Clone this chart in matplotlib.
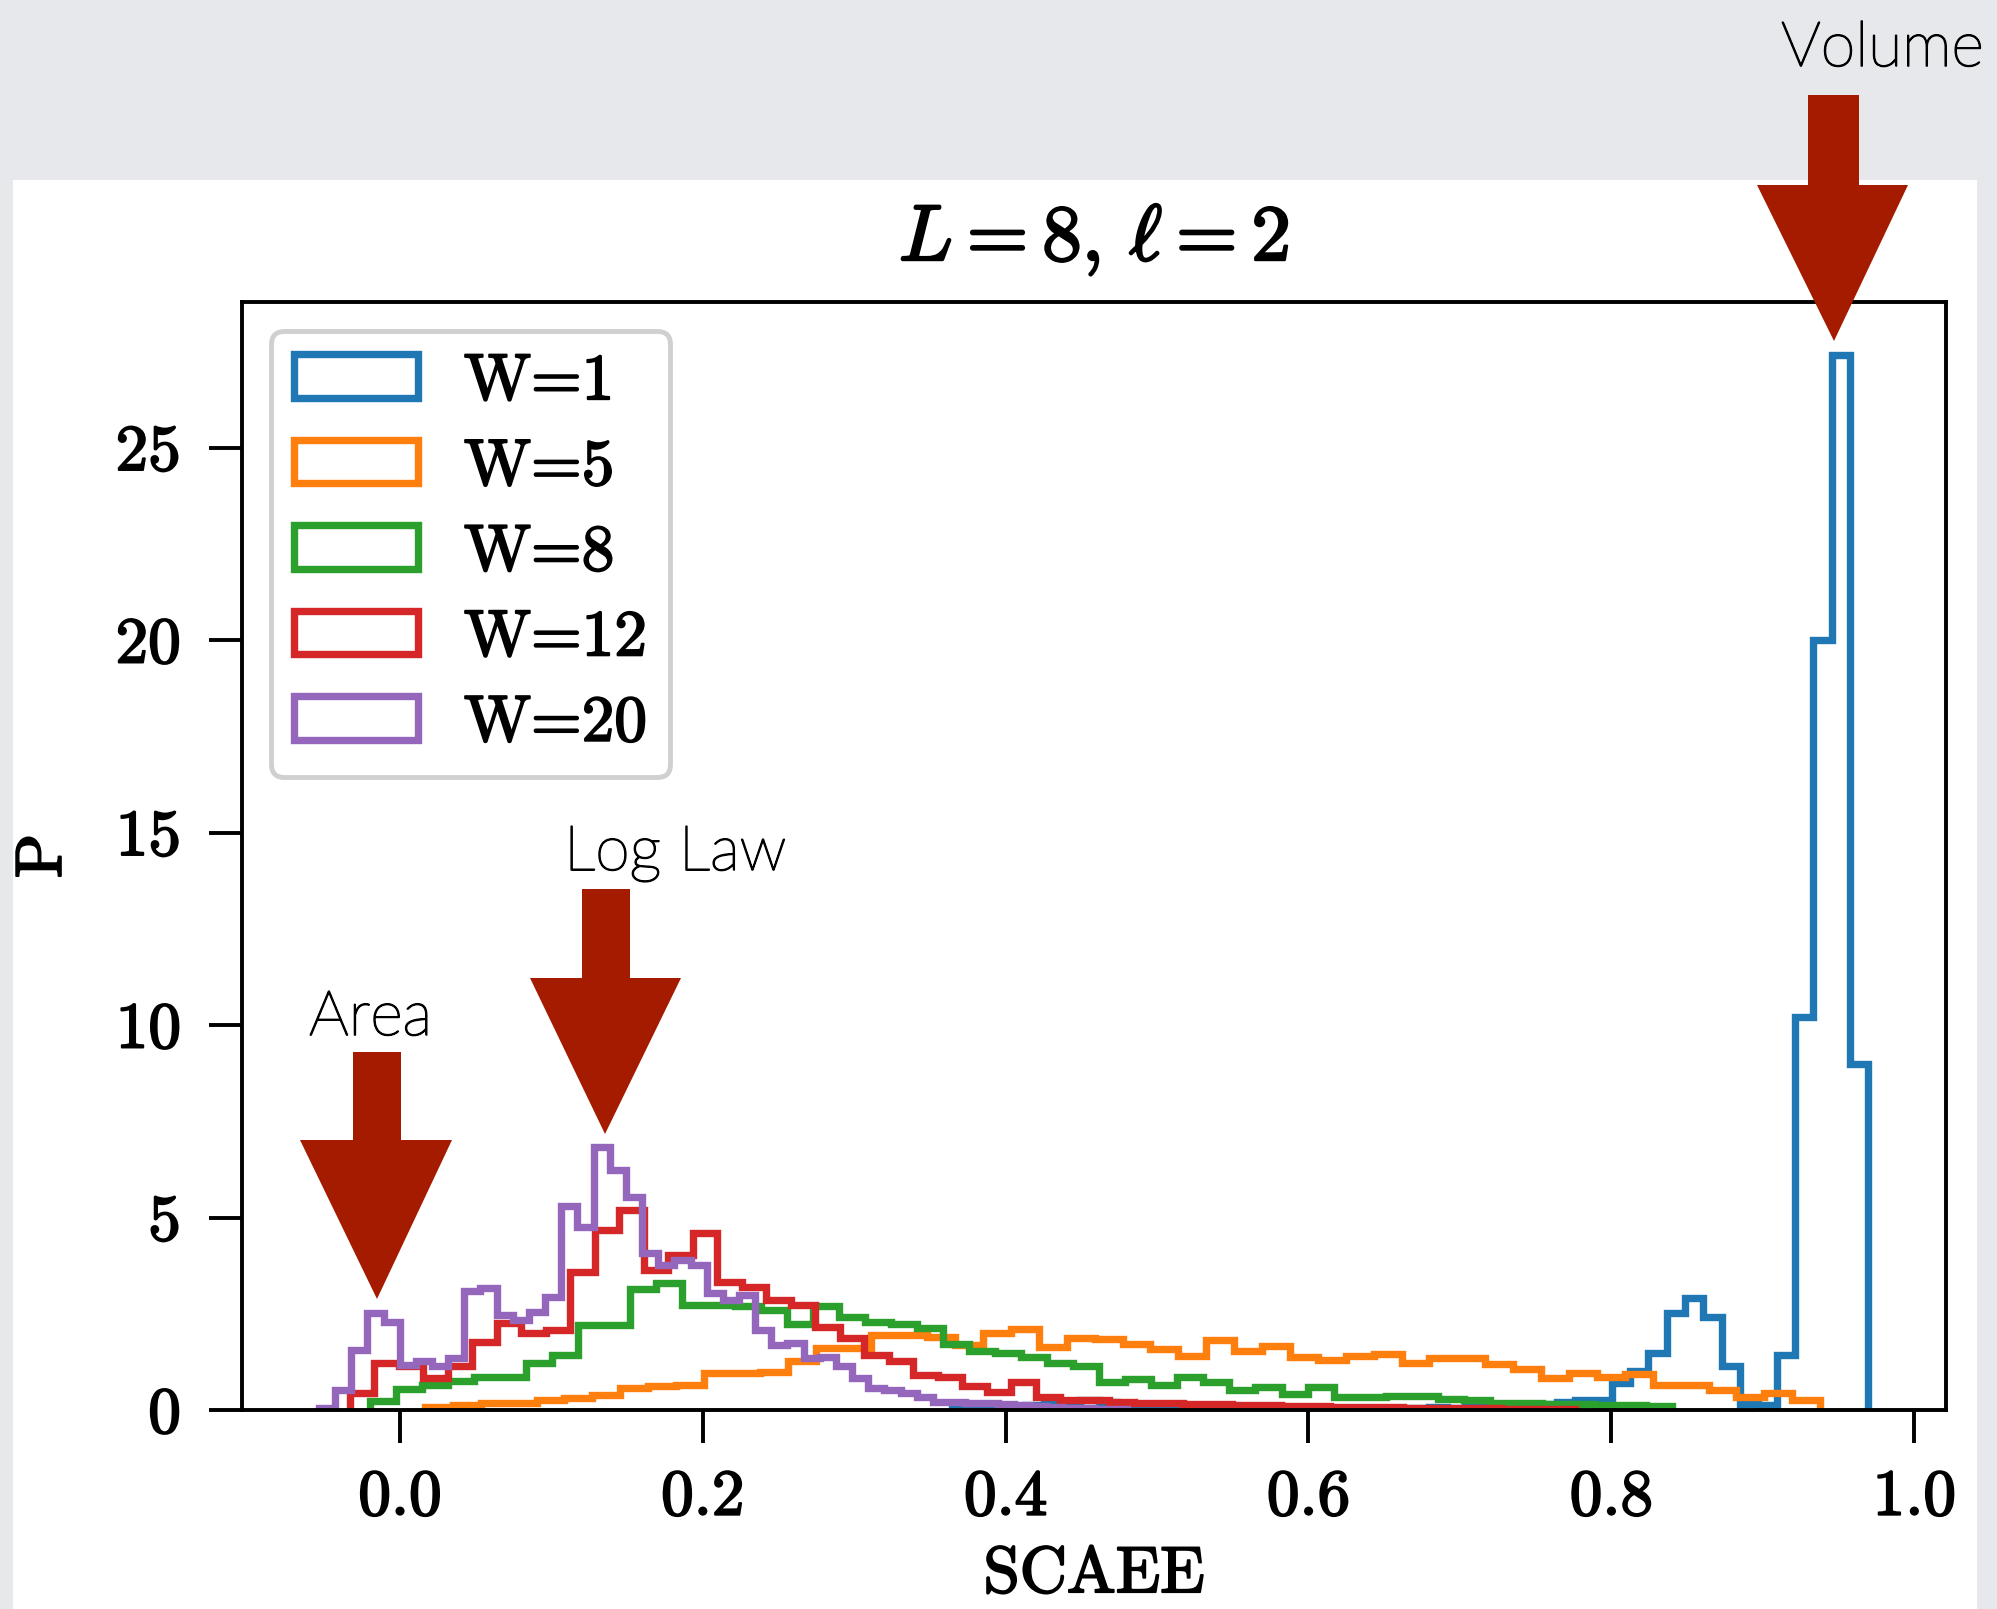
import numpy as np
import matplotlib
matplotlib.use("Agg")
import matplotlib.pyplot as plt
import matplotlib.patheffects as pe
from matplotlib.patches import Polygon, Rectangle

plt.rcParams['font.family'] = 'cmr10'
plt.rcParams['mathtext.fontset'] = 'cm'
plt.rcParams['axes.formatter.use_mathtext'] = True
plt.rcParams['axes.unicode_minus'] = False

# ---------------- data (density histograms, 50 bins each) ----------------
labels = ["W=1", "W=5", "W=8", "W=12", "W=20"]
colors = ["#1f77b4", "#ff7f0e", "#2ca02c", "#d62728", "#9467bd"]

range_w1 = (0.3645, 0.9698)
range_w5 = (0.0165, 0.9379)
range_w8 = (-0.0198, 0.8402)
range_w12 = (-0.0330, 0.7758)
range_w20 = (-0.0535, 0.4800)

p_w1 = [0.08, 0.00, 0.04, 0.04, 0.12, 0.20, 0.12, 0.25, 0.20, 0.08,
        0.04, 0.04, 0.08, 0.04, 0.04, 0.00, 0.04, 0.04, 0.00, 0.04,
        0.04, 0.00, 0.04, 0.00, 0.04, 0.04, 0.08, 0.04, 0.08, 0.08,
        0.12, 0.12, 0.16, 0.20, 0.26, 0.26, 0.69, 1.02, 1.47, 2.51,
        2.90, 2.42, 1.13, 0.15, 0.12, 1.43, 10.2, 20.0, 27.4, 9.0]

p_w5 = [0.08, 0.12, 0.17, 0.18, 0.26, 0.30, 0.39, 0.58, 0.62, 0.66,
        0.96, 0.96, 0.99, 1.26, 1.60, 1.60, 1.95, 1.95, 1.90, 1.69,
        2.00, 2.10, 1.63, 1.86, 1.85, 1.71, 1.58, 1.41, 1.82, 1.52,
        1.65, 1.38, 1.30, 1.40, 1.45, 1.22, 1.36, 1.36, 1.20, 1.06,
        0.82, 0.95, 0.87, 0.94, 0.65, 0.65, 0.52, 0.35, 0.43, 0.26]

p_w8 = [0.24, 0.54, 0.65, 0.76, 0.87, 0.87, 1.23, 1.43, 2.22, 2.22,
        3.13, 3.31, 2.73, 2.72, 2.70, 2.60, 2.23, 2.70, 2.41, 2.29,
        2.23, 2.12, 1.71, 1.52, 1.47, 1.38, 1.21, 1.13, 0.72, 0.80,
        0.65, 0.87, 0.72, 0.52, 0.61, 0.41, 0.61, 0.35, 0.35, 0.37,
        0.37, 0.28, 0.26, 0.18, 0.17, 0.16, 0.15, 0.13, 0.12, 0.10]

p_w12 = [0.43, 1.21, 1.13, 0.82, 1.13, 1.77, 2.25, 1.99, 2.08, 3.59,
         4.68, 5.19, 3.64, 4.03, 4.59, 3.33, 3.20, 2.86, 2.73, 2.16,
         1.86, 1.43, 1.26, 0.91, 0.87, 0.63, 0.48, 0.74, 0.35, 0.26,
         0.26, 0.20, 0.18, 0.17, 0.15, 0.15, 0.12, 0.12, 0.10, 0.10,
         0.08, 0.08, 0.07, 0.06, 0.05, 0.05, 0.04, 0.03, 0.03, 0.02]

p_w20 = [0.06, 0.52, 1.56, 2.53, 2.29, 1.17, 1.26, 1.13, 1.34, 3.10,
         3.16, 2.47, 2.34, 2.55, 2.94, 5.30, 4.76, 6.84, 6.23, 5.54,
         4.07, 3.77, 3.90, 3.77, 3.03, 2.86, 2.99, 2.08, 1.69, 1.73,
         1.34, 1.38, 1.13, 0.82, 0.56, 0.52, 0.43, 0.35, 0.22, 0.22,
         0.17, 0.17, 0.15, 0.12, 0.10, 0.08, 0.06, 0.05, 0.03, 0.02]

ranges = [range_w1, range_w5, range_w8, range_w12, range_w20]
heights = [p_w1, p_w5, p_w8, p_w12, p_w20]

xticks = [0.0, 0.2, 0.4, 0.6, 0.8, 1.0]
yticks = [0, 5, 10, 15, 20, 25]
title = r"$L = 8,\, \ell = 2$"
xlabel = "SCAEE"
ylabel = "P"
annotations = ["Volume", "Log Law", "Area"]

# ---------------- figure ----------------
W, H = 1997, 1609
fig = plt.figure(figsize=(W / 100, H / 100), dpi=100)
fig.patch.set_facecolor("#e6e8eb")

def fx(px):
    return px / W

def fy(py):
    return 1 - py / H

# white slide panel
panel = Rectangle((fx(13), fy(1609)), fx(1977) - fx(13), fy(180) - fy(1609),
                  transform=fig.transFigure, facecolor="white", edgecolor="none", zorder=-5)
fig.patches.append(panel)

ax = fig.add_axes([fx(242), fy(1410), fx(1946) - fx(242), fy(302) - fy(1410)])
ax.set_facecolor("white")

for rng, h, c, lab in zip(ranges, heights, colors, labels):
    edges = np.linspace(rng[0], rng[1], len(h) + 1)
    ax.hist(edges[:-1], bins=edges, weights=h, histtype="step",
            color=c, linewidth=5.3, label=lab)

ax.set_xlim(-0.1043, 1.021)
ax.set_ylim(0, 28.78)
ax.set_xticks(xticks)
ax.set_xticklabels([f"{t:.1f}" for t in xticks])
ax.set_yticks(yticks)
ax.set_yticklabels([str(t) for t in yticks])

FS = 47
bold = [pe.withStroke(linewidth=1.4, foreground="black")]
ax.tick_params(axis="both", which="major", length=24, width=2.8, labelsize=FS)
ax.tick_params(axis="x", pad=19)
ax.tick_params(axis="y", pad=20)
for lab in ax.get_xticklabels() + ax.get_yticklabels():
    lab.set_path_effects(bold)
for sp in ax.spines.values():
    sp.set_linewidth(2.8)

t = ax.set_title(title, fontsize=57, pad=30)
t.set_path_effects([pe.withStroke(linewidth=1.8, foreground="black")])
xl = ax.set_xlabel(xlabel, fontsize=FS, labelpad=14)
yl = ax.set_ylabel(ylabel, fontsize=FS, labelpad=30)
xl.set_path_effects(bold)
yl.set_path_effects(bold)

leg = ax.legend(loc="upper left", fontsize=FS, handlelength=1.9, handleheight=0.65,
                borderpad=0.35, labelspacing=0.42, handletextpad=0.7,
                borderaxespad=0.45, fancybox=True, framealpha=1.0,
                edgecolor="#d0d0d0")
leg.get_frame().set_linewidth(3.5)
for txt in leg.get_texts():
    txt.set_path_effects(bold)

# ---------------- slide annotations (arrows + labels) ----------------
arrow_color = "#a51b00"

def down_arrow(shaft_x0, shaft_x1, shaft_top, head_y, head_x0, head_x1, tip_x, tip_y):
    pts = [(shaft_x0, shaft_top), (shaft_x1, shaft_top), (shaft_x1, head_y),
           (head_x1, head_y), (tip_x, tip_y), (head_x0, head_y), (shaft_x0, head_y)]
    poly = Polygon([(fx(x), fy(y)) for x, y in pts], closed=True,
                   transform=fig.transFigure, facecolor=arrow_color,
                   edgecolor="none", zorder=10)
    fig.patches.append(poly)

down_arrow(1808, 1859, 95, 185, 1757, 1908, 1834, 341)
down_arrow(582, 630, 889, 978, 530, 681, 605, 1134)
down_arrow(353, 401, 1052, 1140, 300, 452, 377, 1299)

ann_font = dict(family=["Lato", "DejaVu Sans"], fontweight="light", fontsize=45,
                color="black", zorder=11)
ann_fx = [pe.withStroke(linewidth=1.2, foreground="black")]
for txt, (px, py) in zip(annotations, [(1781, 66), (564, 870), (309, 1035)]):
    a = fig.text(fx(px), fy(py), txt, ha="left", va="baseline", **ann_font)
    a.set_path_effects(ann_fx)

fig.savefig("out.png", dpi=100, facecolor=fig.get_facecolor())
